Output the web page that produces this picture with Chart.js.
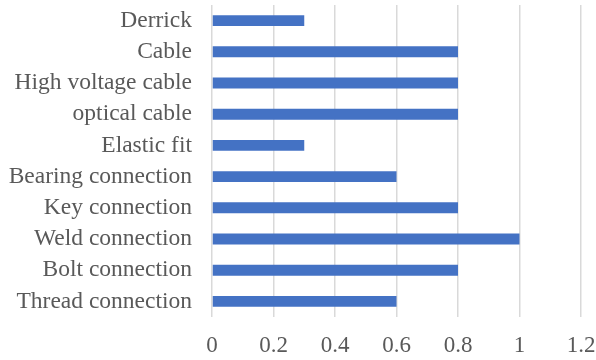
<!DOCTYPE html>
<html>
<head>
<meta charset="utf-8">
<script src="https://cdn.jsdelivr.net/npm/chart.js@4"></script>
<style>
  html, body { margin: 0; padding: 0; background: #ffffff; }
  #wrap { width: 596px; height: 360px; }
</style>
</head>
<body>
<div id="wrap"><canvas id="barChart" width="596" height="360"></canvas></div>
<script>
var categories = ["Derrick", "Cable", "High voltage cable", "optical cable", "Elastic fit",
	"Bearing connection", "Key connection", "Weld connection", "Bolt connection", "Thread connection"];
var values = [0.3, 0.8, 0.8, 0.8, 0.3, 0.6, 0.8, 1.0, 0.8, 0.6];
var xTicks = [0, 0.2, 0.4, 0.6, 0.8, 1, 1.2];

window.onload = function start(){
	var ctx = document.getElementById("barChart");
	var chart = new Chart(ctx, {
		type: 'bar',
		data: {
			labels: categories,
			datasets: [{
				data: values,
				backgroundColor: "#4472C4",
				borderWidth: 0,
				barPercentage: 0.7,
				categoryPercentage: 0.5
			}]
		},
		options: {
			indexAxis: 'y',
			responsive: false,
			animation: false,
			layout: { padding: { top: 5, right: 15, left: 0, bottom: 0 } },
			plugins: { legend: { display: false }, tooltip: { enabled: false } },
			scales: {
				x: {
					min: 0,
					max: 1.2,
					afterBuildTicks: function(axis){
						axis.ticks = xTicks.map(function(v){ return { value: v }; });
					},
					afterFit: function(axis){
						axis.height = 43;
						axis.paddingLeft = 0; axis.paddingRight = 0;
					},
					border: { display: false },
					grid: { color: "#d9d9d9", lineWidth: 1.5, drawTicks: false },
					ticks: {
						color: "#595959",
						padding: 15,
						maxRotation: 0,
						font: { family: "Liberation Serif", size: 23 },
						callback: function(v){ return String(v); }
					}
				},
				y: {
					afterFit: function(axis){
						axis.width = 212;
						axis.paddingTop = 0; axis.paddingBottom = 0;
					},
					border: { display: false },
					grid: { display: false, drawTicks: false },
					ticks: {
						color: "#595959",
						padding: 20,
						autoSkip: false,
						font: { family: "Liberation Serif", size: 23.5 }
					}
				}
			}
		}
	});
};
</script>
</body>
</html>
